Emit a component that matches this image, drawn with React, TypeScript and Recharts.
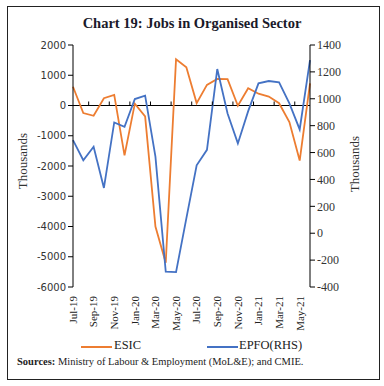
import React from 'react';
import {
  LineChart,
  Line,
  XAxis,
  YAxis,
  ReferenceLine,
} from 'recharts';

// monthly change, thousands
const months = [
  'Jul-19', 'Aug-19', 'Sep-19', 'Oct-19', 'Nov-19', 'Dec-19',
  'Jan-20', 'Feb-20', 'Mar-20', 'Apr-20', 'May-20', 'Jun-20',
  'Jul-20', 'Aug-20', 'Sep-20', 'Oct-20', 'Nov-20', 'Dec-20',
  'Jan-21', 'Feb-21', 'Mar-21', 'Apr-21', 'May-21', 'Jun-21',
];
const esic = [
  620, -250, -340, 240, 350, -1650, 60, -360, -4000, -5200, 1530, 1265,
  80, 680, 880, 870, -10, 570, 390, 295, 75, -550, -1820, 735,
];
const epfo = [
  692, 543, 643, 337, 824, 791, 998, 1023, 570, -285, -289, 110,
  505, 620, 1221, 891, 668, 908, 1115, 1132, 1122, 966, 772, 1288,
];
const leftTicks = [-6000, -5000, -4000, -3000, -2000, -1000, 0, 1000, 2000];
const rightTicks = [-400, -200, 0, 200, 400, 600, 800, 1000, 1200, 1400];

const chartData = months.map((m, i) => ({ month: m, esic: esic[i], epfo: epfo[i] }));

const ORANGE = '#ED7D31';
const BLUE = '#4472C4';
const SERIF = '"Liberation Serif", "DejaVu Serif", serif';

const W = 384;
const H = 340;
const M = { top: 45, right: 34, left: 33, bottom: 8 };
const AXIS_W = 40;
const X_H = 45;
const plotW = W - M.left - M.right - 2 * AXIS_W;
const plotH = H - M.top - M.bottom - X_H;
const band = plotW / months.length;
// pixel row of the zero line on the left axis (x-axis ticks sit there)
const zeroY = M.top + (plotH * leftTicks[leftTicks.length - 1]) / (leftTicks[leftTicks.length - 1] - leftTicks[0]);

const MonthTick = (props: any) => {
  const { x, payload } = props;
  const ty = M.top + plotH + 9;
  return (
    <g>
      {payload.index > 0 && (
        <line x1={x - band / 2} x2={x - band / 2} y1={zeroY} y2={zeroY - 4} stroke="#000" strokeWidth={1} />
      )}
      <text
        x={x}
        y={ty}
        transform={`rotate(-90, ${x}, ${ty})`}
        textAnchor="end"
        dy="0.35em"
        fontFamily={SERIF}
        fontSize={11}
        fill="#222"
      >
        {payload.value}
      </text>
    </g>
  );
};

export default function App() {
  return (
    <div style={{ position: 'absolute', left: 0, top: 0, width: 384, height: 386, background: '#fff' }}>
      <div
        style={{
          position: 'absolute',
          left: 7,
          top: 6,
          width: 371,
          height: 372,
          border: '1.5px solid #222',
        }}
      />
      <div
        style={{
          position: 'absolute',
          top: 15,
          width: 384,
          textAlign: 'center',
          fontFamily: SERIF,
          fontWeight: 'bold',
          fontSize: 14.5,
          color: '#1a1a2a',
        }}
      >
        Chart 19: Jobs in Organised Sector
      </div>

      <div style={{ position: 'absolute', left: 0, top: 0 }}>
        <LineChart width={W} height={H} data={chartData} margin={M}>
          <XAxis
            dataKey="month"
            interval={1}
            axisLine={false}
            tickLine={false}
            tickSize={0}
            tickMargin={0}
            height={X_H}
            tick={<MonthTick />}
          />
          <YAxis
            yAxisId="left"
            width={AXIS_W}
            domain={[-6000, 2000]}
            ticks={leftTicks}
            interval={0}
            axisLine={{ stroke: '#000' }}
            tickLine={{ stroke: '#000' }}
            tickSize={5}
            tick={{ fontFamily: '"DejaVu Sans", sans-serif', fontSize: 10, fill: '#333' }}
          />
          <YAxis
            yAxisId="right"
            orientation="right"
            width={AXIS_W}
            domain={[-400, 1400]}
            ticks={rightTicks}
            interval={0}
            axisLine={{ stroke: '#000' }}
            tickLine={{ stroke: '#000' }}
            tickSize={5}
            tick={{ fontFamily: SERIF, fontSize: 12, fill: '#333' }}
          />
          <ReferenceLine yAxisId="left" y={0} stroke="#000" strokeWidth={1} />
          <Line
            yAxisId="left"
            dataKey="esic"
            name="ESIC"
            type="linear"
            stroke={ORANGE}
            strokeWidth={1.8}
            dot={false}
            isAnimationActive={false}
          />
          <Line
            yAxisId="right"
            dataKey="epfo"
            name="EPFO(RHS)"
            type="linear"
            stroke={BLUE}
            strokeWidth={1.8}
            dot={false}
            isAnimationActive={false}
          />
        </LineChart>
      </div>

      <div
        style={{
          position: 'absolute',
          left: 23,
          top: 161,
          transform: 'translate(-50%, -50%) rotate(-90deg)',
          fontFamily: SERIF,
          fontSize: 13,
          color: '#333',
          whiteSpace: 'nowrap',
        }}
      >
        Thousands
      </div>
      <div
        style={{
          position: 'absolute',
          left: 355,
          top: 164,
          transform: 'translate(-50%, -50%) rotate(-90deg)',
          fontFamily: SERIF,
          fontSize: 13,
          color: '#333',
          whiteSpace: 'nowrap',
        }}
      >
        Thousands
      </div>

      <div
        style={{
          position: 'absolute',
          top: 338,
          left: 0,
          width: 384,
          fontFamily: SERIF,
          fontSize: 12.5,
          color: '#222',
        }}
      >
        <span style={{ position: 'absolute', left: 81, top: 8, width: 31, height: 2, background: ORANGE }} />
        <span style={{ position: 'absolute', left: 114, top: 0 }}>ESIC</span>
        <span style={{ position: 'absolute', left: 207, top: 8, width: 31, height: 2, background: BLUE }} />
        <span style={{ position: 'absolute', left: 239, top: 0 }}>EPFO(RHS)</span>
      </div>
      <div
        style={{
          position: 'absolute',
          left: 17,
          top: 356,
          fontFamily: SERIF,
          fontSize: 10.5,
          color: '#222',
          whiteSpace: 'nowrap',
        }}
      >
        <b>Sources:</b> Ministry of Labour &amp; Employment (MoL&amp;E); and CMIE.
      </div>
    </div>
  );
}
